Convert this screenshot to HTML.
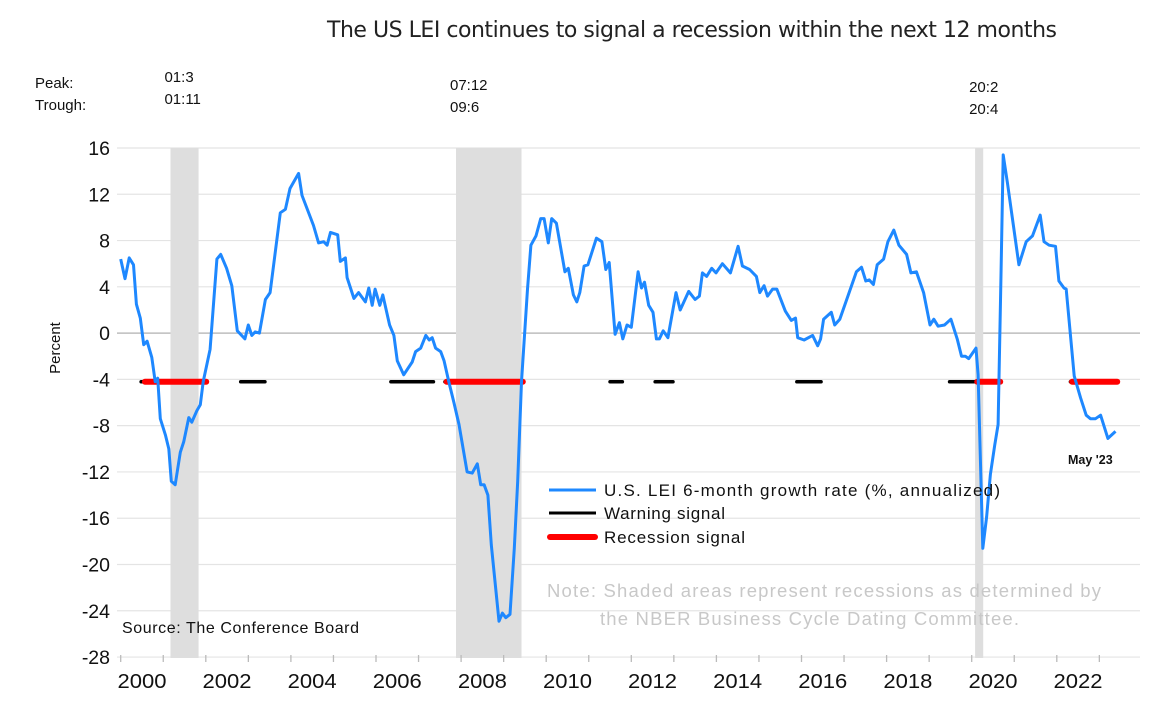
<!DOCTYPE html>
<html><head><meta charset="utf-8"><style>
body{margin:0;background:#fff;}
svg text{font-family:"Liberation Sans",Arial,sans-serif;}
</style></head><body>
<svg id="chart" width="1155" height="710" viewBox="0 0 1155 710" xmlns="http://www.w3.org/2000/svg">
<text x="692" y="37" font-size="22" text-anchor="middle" fill="#222" style="font-family:'DejaVu Sans','Liberation Sans',sans-serif" textLength="730">The US LEI continues to signal a recession within the next 12 months</text>
<text x="35" y="88" font-size="15" fill="#111">Peak:</text>
<text x="35" y="110" font-size="15" fill="#111">Trough:</text>
<g id="grid"></g>
<g id="shades"></g>
<g id="signals"></g>
<g id="series"></g>
<g id="axes"></g>
<text transform="translate(60,348) rotate(-90)" font-size="15" text-anchor="middle" fill="#111">Percent</text>
<text x="1068" y="464" font-size="12.5" font-weight="bold" fill="#111">May '23</text>
<g>
<line x1="549" y1="490" x2="596" y2="490" stroke="#1E88FF" stroke-width="3"/>
<text x="604" y="496" font-size="17" fill="#111" textLength="396">U.S. LEI 6-month growth rate (%, annualized)</text>
<line x1="549" y1="513" x2="596" y2="513" stroke="#000" stroke-width="3"/>
<text x="604" y="519" font-size="17" fill="#111" textLength="121">Warning signal</text>
<line x1="550" y1="537" x2="595" y2="537" stroke="#f00" stroke-width="6" stroke-linecap="round"/>
<text x="604" y="543" font-size="17" fill="#111" textLength="141">Recession signal</text>
</g>
<text x="547" y="597" font-size="18.5" fill="#c8c8c8" textLength="554">Note: Shaded areas represent recessions as determined by</text>
<text x="600" y="625" font-size="18.5" fill="#c8c8c8" textLength="419">the NBER Business Cycle Dating Committee.</text>
<text x="122" y="633" font-size="16" fill="#111" textLength="237">Source: The Conference Board</text>
</svg>
<script>
const yTicks=[16,12,8,4,0,-4,-8,-12,-16,-20,-24,-28];
const xYears=[2000,2002,2004,2006,2008,2010,2012,2014,2016,2018,2020,2022];
const recStart=[2001.17,2007.88,2020.08];
const recEnd=[2001.83,2009.42,2020.27];
const recPeak=["01:3","07:12","20:2"];
const recTrough=["01:11","09:6","20:4"];
const recLabelY=[82,90,92];
const warnStart=[2000.48,2002.82,2006.35,2007.62,2011.50,2012.56,2015.89,2019.48,2022.32];
const warnEnd=[2002.02,2003.39,2007.35,2007.70,2011.79,2012.98,2016.46,2020.13,2022.40];
const redStart=[2000.57,2007.66,2020.13,2022.36];
const redEnd=[2002.01,2009.45,2020.67,2023.42];
const leiT=[2000.0,2000.10,2000.2,2000.30,2000.37,2000.46,2000.54,2000.62,2000.73,2000.81,2000.87,2000.93,2001.05,2001.13,2001.19,2001.28,2001.40,2001.48,2001.60,2001.67,2001.79,2001.87,2001.94,2002.10,2002.26,2002.35,2002.49,2002.61,2002.74,2002.92,2003.00,2003.08,2003.16,2003.26,2003.40,2003.51,2003.75,2003.87,2003.98,2004.18,2004.26,2004.53,2004.65,2004.77,2004.85,2004.93,2005.10,2005.16,2005.28,2005.32,2005.48,2005.59,2005.75,2005.83,2005.91,2005.98,2006.09,2006.16,2006.32,2006.42,2006.50,2006.65,2006.85,2006.93,2007.05,2007.17,2007.25,2007.32,2007.40,2007.52,2007.60,2007.71,2007.83,2007.95,2008.14,2008.26,2008.38,2008.46,2008.54,2008.63,2008.71,2008.89,2008.97,2009.05,2009.15,2009.25,2009.33,2009.42,2009.56,2009.64,2009.76,2009.87,2009.95,2010.05,2010.13,2010.24,2010.44,2010.52,2010.64,2010.72,2010.79,2010.89,2010.98,2011.18,2011.31,2011.40,2011.48,2011.62,2011.72,2011.80,2011.90,2012.00,2012.16,2012.24,2012.31,2012.41,2012.51,2012.59,2012.66,2012.75,2012.86,2013.05,2013.15,2013.35,2013.50,2013.60,2013.67,2013.77,2013.89,2013.99,2014.14,2014.33,2014.51,2014.61,2014.78,2014.94,2015.02,2015.12,2015.20,2015.32,2015.42,2015.62,2015.76,2015.86,2015.91,2016.06,2016.26,2016.38,2016.45,2016.52,2016.70,2016.78,2016.90,2017.09,2017.29,2017.41,2017.51,2017.59,2017.69,2017.78,2017.93,2018.03,2018.17,2018.29,2018.47,2018.57,2018.70,2018.87,2019.02,2019.11,2019.21,2019.36,2019.51,2019.66,2019.76,2019.85,2019.93,2020.10,2020.15,2020.26,2020.35,2020.44,2020.54,2020.62,2020.69,2020.74,2020.84,2020.98,2021.11,2021.28,2021.43,2021.61,2021.70,2021.82,2021.97,2022.05,2022.17,2022.22,2022.41,2022.56,2022.69,2022.79,2022.91,2023.03,2023.20,2023.38];
const leiV=[6.4,4.7,6.5,5.9,2.5,1.3,-1,-0.7,-2.1,-4.2,-3.9,-7.4,-8.8,-10,-12.8,-13.1,-10.3,-9.4,-7.3,-7.7,-6.7,-6.2,-4.2,-1.4,6.4,6.8,5.6,4.1,0.2,-0.5,0.7,-0.2,0.1,0,2.9,3.5,10.4,10.7,12.5,13.8,11.9,9.3,7.8,7.9,7.6,8.7,8.5,6.2,6.5,4.8,3.0,3.5,2.7,3.9,2.4,3.8,2.4,3.3,0.7,-0.2,-2.4,-3.6,-2.5,-1.6,-1.3,-0.2,-0.6,-0.4,-1.3,-1.6,-2.4,-4.2,-6.0,-7.9,-12,-12.1,-11.3,-13.1,-13.1,-14,-18.3,-24.9,-24.2,-24.6,-24.3,-18.6,-12.8,-4.2,3.8,7.6,8.4,9.9,9.9,7.8,9.9,9.5,5.3,5.6,3.3,2.7,3.5,5.8,5.9,8.2,7.9,5.5,6.1,-0.1,0.9,-0.5,0.7,0.5,5.3,3.9,4.4,2.4,1.8,-0.5,-0.5,0.2,-0.4,3.5,2.0,3.6,2.9,3.2,5.2,4.9,5.6,5.2,6.0,5.2,7.5,5.8,5.5,4.9,3.5,4.1,3.2,3.8,3.8,1.9,1.1,1.3,-0.4,-0.6,-0.2,-1.1,-0.5,1.2,1.8,0.7,1.2,3.2,5.3,5.7,4.5,4.6,4.2,5.9,6.4,7.9,8.9,7.6,6.8,5.2,5.3,3.5,0.7,1.2,0.6,0.7,1.2,-0.5,-2,-2,-2.2,-1.3,-3.6,-18.6,-15.9,-12.2,-9.7,-7.9,5.5,15.4,13,9.3,5.9,7.9,8.4,10.2,7.9,7.6,7.5,4.5,3.9,3.8,-3.7,-5.6,-7.1,-7.4,-7.4,-7.1,-9.1,-8.5];

const NS="http://www.w3.org/2000/svg";
const X0=117,X1=1140;
function xs(t){return 120.7+(t-2000)*42.55;}
function ys(v){return 333.1-v*11.57;}
function mk(tag,attrs,parent){const e=document.createElementNS(NS,tag);for(const k in attrs)e.setAttribute(k,attrs[k]);document.getElementById(parent).appendChild(e);return e;}

yTicks.forEach(v=>{
  const l=mk('line',{x1:X0,x2:X1,y1:ys(v),y2:ys(v),stroke:v===0?'#bdbdbd':'#e4e4e4','stroke-width':v===0?1.5:1.2},'grid');
  
  
  const t=mk('text',{x:110,y:ys(v)+7,'font-size':19.5,'text-anchor':'end',fill:'#111'},'axes');
  t.textContent=v;
  
  
});
for(let yr=2000;yr<=2023;yr++){
  const tk=mk('line',{x1:xs(yr),x2:xs(yr),y1:655,y2:662,stroke:'#bbb','stroke-width':1.3},'axes');
  
  
}
xYears.forEach(yr=>{
  const t=mk('text',{x:xs(yr+0.5),y:688,'font-size':20,'text-anchor':'middle',fill:'#111',textLength:49,lengthAdjust:'spacingAndGlyphs'},'axes');
  t.textContent=yr;
  
  
});
recStart.forEach((s,i)=>{
  const r=mk('rect',{x:xs(s),y:148,width:xs(recEnd[i])-xs(s),height:510,fill:'#dedede'},'shades');
  
  
  const p=mk('text',{x:xs(s)-6,y:recLabelY[i],'font-size':15,fill:'#111'},'shades');
  p.textContent=recPeak[i];
  
  
  const q=mk('text',{x:xs(s)-6,y:recLabelY[i]+22,'font-size':15,fill:'#111'},'shades');
  q.textContent=recTrough[i];
  
  
});
const sigY=ys(-4.2);
warnStart.forEach((s,i)=>{
  const l=mk('line',{x1:xs(s),x2:xs(warnEnd[i]),y1:sigY,y2:sigY,stroke:'#000','stroke-width':3.5,'stroke-linecap':'round'},'signals');
  
  
});
redStart.forEach((s,i)=>{
  const l=mk('line',{x1:xs(s),x2:xs(redEnd[i]),y1:sigY,y2:sigY,stroke:'#ff0000','stroke-width':6,'stroke-linecap':'round'},'signals');
  
  
});
const pts=leiT.map((t,i)=>xs(t).toFixed(1)+','+ys(leiV[i]).toFixed(1)).join(' ');
const pl=mk('polyline',{points:pts,fill:'none',stroke:'#1E88FF','stroke-width':3,'stroke-linejoin':'round'},'series');


</script>
</body></html>
